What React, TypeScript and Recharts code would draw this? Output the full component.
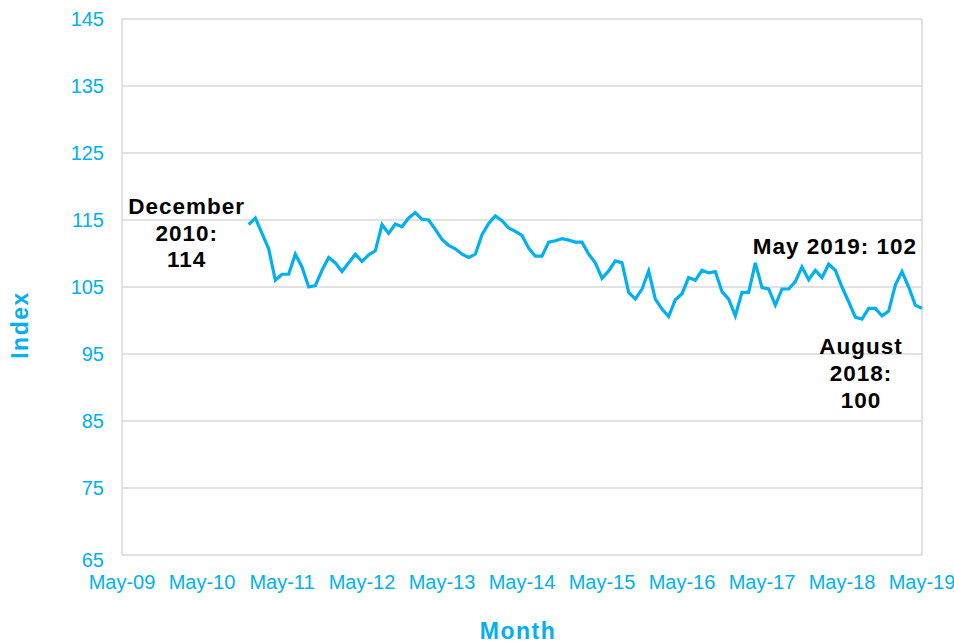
import React from 'react';
import {
  LineChart,
  Line,
  XAxis,
  YAxis,
  CartesianGrid,
  ReferenceDot,
  Label,
} from 'recharts';

// Monthly index, December 2010 to May 2019
const FIRST_MONTH = 19; // months after May-09
const VALUES = [
  114.3,
  115.3, 113.0, 110.7, 106.0, 106.9, 106.9, 109.9, 108.0, 105.0, 105.2, 107.5, 109.4,
  108.6, 107.3, 108.6, 109.9, 108.8, 109.8, 110.4, 114.3, 113.0, 114.4, 114.0, 115.3,
  116.1, 115.1, 115.0, 113.6, 112.1, 111.2, 110.7, 109.9, 109.4, 109.9, 112.8, 114.5,
  115.6, 114.9, 113.8, 113.3, 112.7, 110.8, 109.6, 109.6, 111.7, 111.9, 112.2, 112.0,
  111.7, 111.7, 109.9, 108.6, 106.3, 107.4, 108.9, 108.6, 104.2, 103.2, 104.7, 107.4,
  103.2, 101.7, 100.6, 103.1, 104.0, 106.4, 106.0, 107.5, 107.1, 107.3, 104.3, 103.2,
  100.7, 104.2, 104.2, 108.6, 104.9, 104.7, 102.3, 104.7, 104.7, 105.8, 108.0, 106.1,
  107.5, 106.4, 108.4, 107.5, 105.0, 102.8, 100.5, 100.2, 101.8, 101.8, 100.7, 101.4,
  105.3, 107.3, 105.0, 102.3, 101.8,
];

const X_TICKS = [0, 12, 24, 36, 48, 60, 72, 84, 96, 108, 120];
const X_LABELS = ['May-09', 'May-10', 'May-11', 'May-12', 'May-13', 'May-14', 'May-15', 'May-16', 'May-17', 'May-18', 'May-19'];
const Y_TICKS = [65, 75, 85, 95, 105, 115, 125, 135, 145];

const BLUE = '#00B0F0';
const GRID = '#D9D9D9';
const FONT = "'Liberation Sans', Arial, sans-serif";

const data = VALUES.map((v, i) => ({ m: FIRST_MONTH + i, index: v }));

// y tick: the bottom label sits a little below its gridline, as in the original
function YTick({ x, y, payload }: any) {
  const shift = payload.value === 65 ? 5 : 0;
  return (
    <text x={x} y={y + shift} dy="0.355em" textAnchor="end" fill={BLUE} fontSize={20} fontFamily={FONT}>
      {payload.value}
    </text>
  );
}

// multi-line bold annotation, lines placed relative to the reference point
function note(lines: string[], dx: number, dy: number, anchor: string, step = 26.5) {
  return ({ viewBox }: any) => {
    const cx = viewBox.x + viewBox.width / 2;
    const cy = viewBox.y + viewBox.height / 2;
    return (
      <text textAnchor={anchor} fontSize={22.5} fontWeight="bold" fontFamily={FONT} fill="#000" letterSpacing={1}>
        {lines.map((l, i) => (
          <tspan key={i} x={cx + dx} y={cy + dy + i * step}>{l}</tspan>
        ))}
      </text>
    );
  };
}

export default function App() {
  return (
    <div style={{ position: 'absolute', left: 0, top: 0, width: 954, height: 643, background: '#fff' }}>
      <LineChart width={954} height={643} data={data} margin={{ top: 19, right: 32, left: 0, bottom: 0 }}>
        <CartesianGrid
          stroke={GRID}
          strokeWidth={1.5}
          verticalCoordinatesGenerator={({ offset }: any) => [offset.left, offset.left + offset.width]}
        />
        <XAxis
          dataKey="m"
          type="number"
          domain={[0, 120]}
          ticks={X_TICKS}
          tickFormatter={(v: number) => X_LABELS[X_TICKS.indexOf(v)]}
          axisLine={false}
          tickLine={false}
          tickMargin={14}
          height={88}
          interval={0}
          tick={{ fill: BLUE, fontSize: 20, fontFamily: FONT }}
        >
          <Label
            content={({ viewBox }: any) => (
              <text
                x={viewBox.x + viewBox.width / 2 - 4}
                y={viewBox.y + 84}
                textAnchor="middle"
                fill={BLUE}
                fontSize={23}
                fontWeight="bold"
                fontFamily={FONT}
                letterSpacing={1.5}
              >
                Month
              </text>
            )}
          />
        </XAxis>
        <YAxis
          type="number"
          domain={[65, 145]}
          ticks={Y_TICKS}
          axisLine={false}
          tickLine={false}
          tickMargin={12}
          width={122}
          interval={0}
          tick={<YTick />}
        >
          <Label
            content={({ viewBox }: any) => {
              const x = viewBox.x + 28;
              const y = viewBox.y + viewBox.height / 2 + 38;
              return (
                <text
                  x={x}
                  y={y}
                  transform={`rotate(-90, ${x}, ${y})`}
                  textAnchor="middle"
                  fill={BLUE}
                  fontSize={23}
                  fontWeight="bold"
                  fontFamily={FONT}
                  letterSpacing={1.5}
                >
                  Index
                </text>
              );
            }}
          />
        </YAxis>
        <Line
          dataKey="index"
          type="linear"
          stroke={BLUE}
          strokeWidth={3.2}
          dot={false}
          isAnimationActive={false}
        />
        <ReferenceDot x={19} y={114} r={0} stroke="none" fill="none"
          label={note(['December', '2010:', '114'], -62, -12.7, 'middle')} />
        <ReferenceDot x={120} y={102} r={0} stroke="none" fill="none"
          label={note(['May 2019: 102'], -5, -53, 'end')} />
        <ReferenceDot x={111} y={100} r={0} stroke="none" fill="none"
          label={note(['August', '2018:', '100'], -1, 33.5, 'middle', 27)} />
      </LineChart>
    </div>
  );
}
